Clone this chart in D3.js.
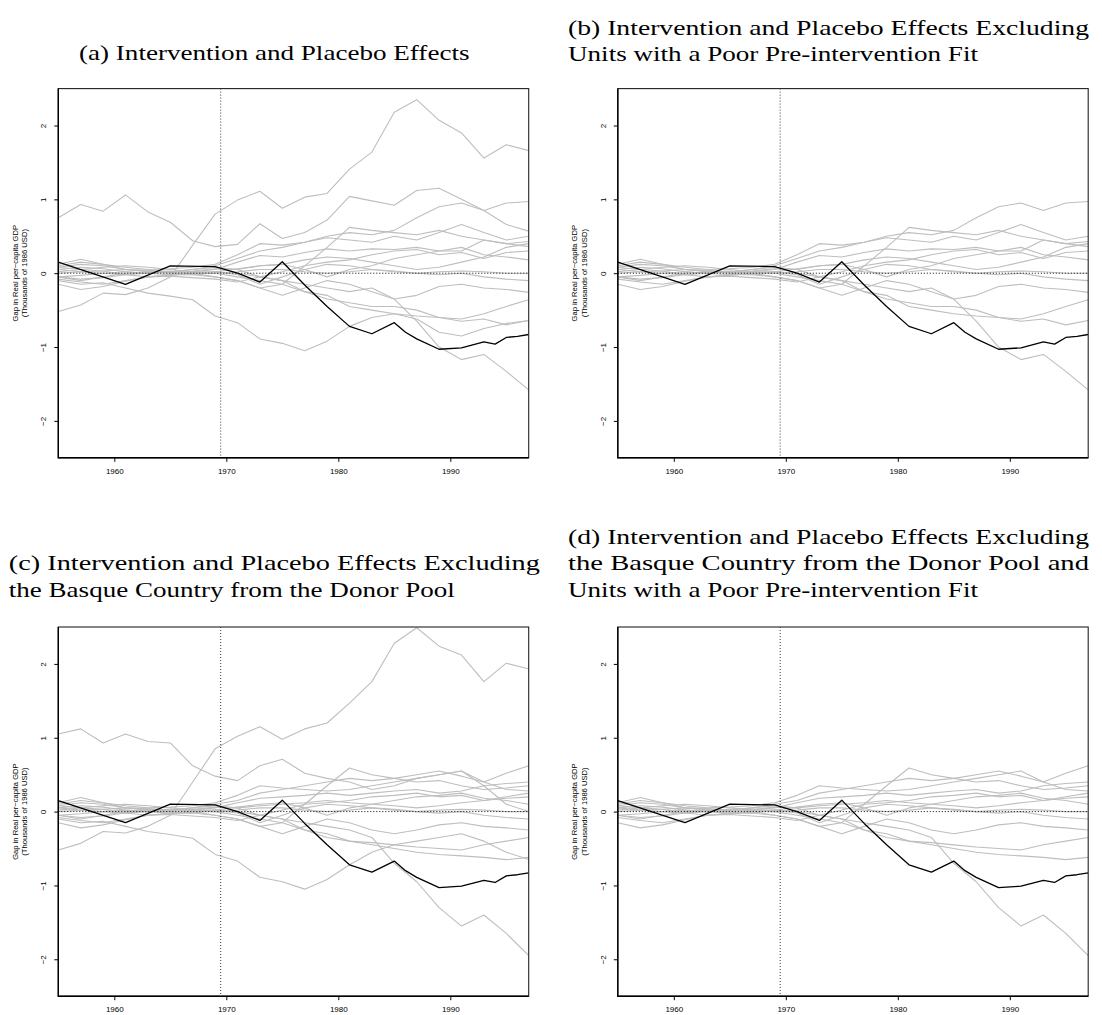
<!DOCTYPE html>
<html>
<head>
<meta charset="utf-8">
<script src="https://cdn.jsdelivr.net/npm/d3@7"></script>
<style>
  body { margin: 0; background: #fff; }
  svg { display: block; }
  .title { font-family: "Liberation Serif", "DejaVu Serif", serif; font-size: 21px; fill: #000; }
  .tick text, .ylab { font-family: "Liberation Sans", Arial, sans-serif; fill: #000; }
</style>
</head>
<body>
<div id="chart"></div>
<script>
// years with a recorded point (vertices of the placebo lines)
var years = [1955,1957,1959,1961,1963,1965,1967,1969,1971,1973,1975,1977,1979,1981,1983,1985,1987,1989,1991,1993,1995,1997];
var xTicks = [1960, 1970, 1980, 1990];
var yTicks = [-2, -1, 0, 1, 2];
var treatYear = 1969.5;

// gap for the Basque Country (same in every panel), read at its own vertices
var basqueYears = [1955,1961,1965,1969,1971,1973,1975,1977,1979,1981,1983,1985,1986,1987,1989,1991,1993,1994,1995,1996,1997];
var gapBasque   = [0.15,-0.15,0.10,0.09,0.00,-0.12,0.155,-0.16,-0.45,-0.72,-0.82,-0.67,-0.80,-0.89,-1.03,-1.01,-0.93,-0.96,-0.87,-0.855,-0.83];

// placebo gaps, Basque Country in the donor pool
var placeboA = [
  [-0.52,-0.43,-0.27,-0.29,-0.20,-0.05,0.38,0.80,0.99,1.11,0.88,1.03,1.08,1.41,1.64,2.18,2.35,2.07,1.90,1.56,1.74,1.66],
  [0.75,0.93,0.84,1.06,0.83,0.69,0.44,0.36,0.39,0.67,0.47,0.55,0.72,1.04,0.98,0.92,1.12,1.15,1.00,0.85,0.66,0.57],
  [-0.10,-0.15,-0.13,-0.20,-0.27,-0.31,-0.36,-0.58,-0.67,-0.89,-0.95,-1.05,-0.92,-0.72,-0.60,-0.55,-0.62,-0.80,-0.85,-0.75,-0.68,-0.64],
  [0.08,0.12,0.10,0.05,0.03,0.02,0.05,0.10,0.20,0.30,0.35,0.42,0.50,0.55,0.52,0.58,0.75,0.90,0.95,0.85,0.95,0.97],
  [0.05,0.08,0.06,0.02,0.00,0.02,0.05,0.08,0.05,-0.05,-0.10,-0.15,-0.20,-0.25,-0.20,-0.35,-0.65,-1.00,-1.17,-1.10,-1.33,-1.58],
  [-0.05,-0.10,-0.05,0.00,0.02,0.03,0.00,-0.05,-0.10,-0.20,-0.15,0.10,0.35,0.62,0.58,0.55,0.52,0.58,0.50,0.45,0.40,0.36],
  [0.10,0.15,0.12,0.08,0.05,0.06,0.08,0.12,0.25,0.40,0.38,0.42,0.48,0.45,0.42,0.50,0.45,0.55,0.66,0.55,0.45,0.50],
  [0.02,0.05,0.08,0.10,0.08,0.05,0.02,0.05,0.15,0.24,0.22,0.28,0.33,0.30,0.33,0.32,0.35,0.30,0.30,0.45,0.40,0.43],
  [-0.05,-0.08,-0.06,-0.02,0.02,0.01,0.02,0.02,0.00,-0.05,0.02,0.10,0.15,0.18,0.25,0.30,0.32,0.25,0.28,0.20,0.28,0.30],
  [0.12,0.19,0.12,0.05,0.02,0.00,-0.02,0.02,0.06,0.10,0.12,0.05,-0.05,0.05,0.10,0.20,0.25,0.30,0.35,0.25,0.22,0.18],
  [0.05,0.02,0.03,0.05,0.04,0.02,0.03,0.06,0.05,0.10,0.12,0.18,0.22,0.20,0.15,0.10,0.05,0.08,0.15,0.22,0.35,0.40],
  [0.00,0.02,0.00,-0.02,0.00,0.02,0.01,0.00,0.02,0.05,0.05,0.02,0.00,0.02,0.05,0.03,0.00,0.02,0.03,0.02,0.00,0.00],
  [-0.15,-0.22,-0.18,-0.11,-0.05,-0.02,0.00,0.02,-0.02,-0.15,-0.05,0.05,0.12,0.10,0.05,0.02,0.00,-0.02,0.00,-0.05,-0.08,-0.10],
  [-0.05,-0.03,0.00,0.02,0.00,-0.02,-0.02,-0.05,-0.10,-0.20,-0.30,-0.20,-0.10,-0.15,-0.25,-0.35,-0.30,-0.18,-0.15,-0.20,-0.22,-0.26],
  [0.08,0.05,0.03,-0.02,-0.05,-0.03,0.00,0.00,-0.05,-0.10,-0.15,-0.25,-0.35,-0.40,-0.45,-0.45,-0.50,-0.60,-0.62,-0.55,-0.45,-0.36],
  [-0.08,-0.12,-0.15,-0.10,-0.05,-0.04,-0.06,-0.08,-0.12,-0.05,-0.10,-0.25,-0.30,-0.45,-0.50,-0.55,-0.58,-0.60,-0.65,-0.62,-0.70,-0.64]
];

// placebo gaps, Basque Country left out of the donor pool
var placeboC = [
  [-0.52,-0.43,-0.27,-0.29,-0.20,-0.05,0.40,0.85,1.02,1.15,0.98,1.12,1.20,1.47,1.76,2.28,2.49,2.24,2.12,1.76,2.01,1.93],
  [1.05,1.12,0.93,1.05,0.95,0.93,0.62,0.48,0.42,0.62,0.71,0.52,0.45,0.40,0.30,0.35,0.45,0.50,0.55,0.35,0.10,0.00],
  [-0.10,-0.15,-0.13,-0.20,-0.27,-0.31,-0.36,-0.58,-0.67,-0.89,-0.95,-1.05,-0.92,-0.72,-0.55,-0.45,-0.40,-0.35,-0.30,-0.40,-0.55,-0.65],
  [0.08,0.12,0.10,0.05,0.03,0.02,0.05,0.10,0.15,0.25,0.30,0.35,0.40,0.45,0.42,0.45,0.50,0.55,0.48,0.40,0.52,0.62],
  [0.05,0.08,0.06,0.02,0.00,0.02,0.05,0.08,0.05,-0.05,-0.10,-0.15,-0.20,-0.25,-0.35,-0.70,-0.95,-1.30,-1.55,-1.40,-1.65,-1.95],
  [-0.05,-0.10,-0.05,0.00,0.02,0.03,0.00,-0.05,-0.10,-0.20,-0.15,0.10,0.35,0.59,0.50,0.45,0.40,0.42,0.35,0.30,0.32,0.35],
  [0.10,0.15,0.12,0.08,0.05,0.06,0.08,0.12,0.22,0.35,0.32,0.30,0.28,0.30,0.35,0.40,0.45,0.50,0.55,0.40,0.30,0.28],
  [0.02,0.05,0.08,0.10,0.08,0.05,0.02,0.05,0.12,0.18,0.20,0.22,0.25,0.22,0.25,0.28,0.30,0.25,0.28,0.35,0.38,0.40],
  [-0.05,-0.08,-0.06,-0.02,0.02,0.01,0.02,0.02,0.00,-0.05,0.02,0.10,0.12,0.15,0.20,0.22,0.25,0.20,0.22,0.15,0.18,0.20],
  [0.12,0.19,0.12,0.05,0.02,0.00,-0.02,0.02,0.06,0.10,0.12,0.05,-0.05,0.05,0.10,0.15,0.20,0.22,0.25,0.18,0.15,0.10],
  [0.05,0.02,0.03,0.05,0.04,0.02,0.03,0.06,0.05,0.08,0.10,0.12,0.15,0.12,0.10,0.08,0.05,0.08,0.12,0.15,0.20,0.25],
  [0.00,0.02,0.00,-0.02,0.00,0.02,0.01,0.00,0.02,0.05,0.05,0.02,0.00,0.02,0.05,0.03,0.00,0.02,0.03,0.02,0.00,0.00],
  [-0.15,-0.22,-0.18,-0.11,-0.05,-0.02,0.00,0.02,-0.02,-0.15,-0.05,0.05,0.10,0.08,0.05,0.02,0.00,-0.02,0.00,-0.05,-0.08,-0.10],
  [-0.05,-0.03,0.00,0.02,0.00,-0.02,-0.02,-0.05,-0.10,-0.20,-0.30,-0.20,-0.10,-0.15,-0.25,-0.30,-0.25,-0.18,-0.15,-0.20,-0.22,-0.25],
  [0.08,0.05,0.03,-0.02,-0.05,-0.03,0.00,0.00,-0.05,-0.10,-0.15,-0.25,-0.35,-0.40,-0.42,-0.45,-0.48,-0.50,-0.52,-0.45,-0.40,-0.35],
  [-0.08,-0.12,-0.15,-0.10,-0.05,-0.04,-0.06,-0.08,-0.12,-0.05,-0.10,-0.25,-0.30,-0.40,-0.45,-0.50,-0.55,-0.58,-0.60,-0.62,-0.65,-0.62]
];

// units dropped for a poor pre-intervention fit (index into the lists above)
var poorFit = [0, 1, 2];

var W = 1102, H = 1015;
var boxW = 470.4, boxH = 369.2;

var panels = [
  { left: 58.3,  top: 88.6,  series: placeboA, drop: false,
    title: [{ t: "(a) Intervention and Placebo Effects", x: 79, y: 59.5, w: 390.5 }] },
  { left: 617.8, top: 88.6,  series: placeboA, drop: true,
    title: [{ t: "(b) Intervention and Placebo Effects Excluding", x: 568, y: 34.5, w: 521 },
            { t: "Units with a Poor Pre-intervention Fit", x: 568, y: 60.8, w: 410 }] },
  { left: 58.3,  top: 627,   series: placeboC, drop: false,
    title: [{ t: "(c) Intervention and Placebo Effects Excluding", x: 8.8, y: 570, w: 531 },
            { t: "the Basque Country from the Donor Pool", x: 8.8, y: 596.5, w: 446 }] },
  { left: 617.8, top: 627,   series: placeboC, drop: true,
    title: [{ t: "(d) Intervention and Placebo Effects Excluding", x: 568, y: 543.5, w: 521 },
            { t: "the Basque Country from the Donor Pool and", x: 568, y: 570, w: 521 },
            { t: "Units with a Poor Pre-intervention Fit", x: 568, y: 596.5, w: 410 }] }
];

var svg = d3.select("#chart").append("svg")
  .attr("width", W).attr("height", H)
  .attr("viewBox", "0 0 " + W + " " + H);

var x = d3.scaleLinear().domain([1955, 1997]).range([0, boxW]);
var y = d3.scaleLinear().domain([-2.5, 2.5]).range([boxH, 0]);

var placeboLine = d3.line()
  .x(function(d, i) { return x(years[i]); })
  .y(function(d) { return y(d); });

var basqueLine = d3.line()
  .x(function(d, i) { return x(basqueYears[i]); })
  .y(function(d) { return y(d); });

panels.forEach(function(p, k) {
  // caption lines
  p.title.forEach(function(l) {
    svg.append("text")
      .attr("class", "title")
      .attr("x", l.x).attr("y", l.y)
      .attr("textLength", l.w)
      .attr("lengthAdjust", "spacingAndGlyphs")
      .text(l.t);
  });

  var g = svg.append("g").attr("transform", "translate(" + p.left + "," + p.top + ")");

  svg.append("clipPath").attr("id", "clip" + k)
    .append("rect").attr("width", boxW).attr("height", boxH);

  var plot = g.append("g").attr("clip-path", "url(#clip" + k + ")");

  var units = p.series.filter(function(s, i) { return !(p.drop && poorFit.indexOf(i) >= 0); });

  plot.selectAll(".placebo")
    .data(units)
    .enter().append("path")
    .attr("class", "placebo")
    .attr("fill", "none")
    .attr("stroke", "#bebebe")
    .attr("stroke-width", 1.1)
    .attr("stroke-linejoin", "round")
    .attr("d", placeboLine);

  plot.append("path")
    .datum(gapBasque)
    .attr("fill", "none")
    .attr("stroke", "#000")
    .attr("stroke-width", 1.3)
    .attr("stroke-linejoin", "round")
    .attr("d", basqueLine);

  // reference lines
  plot.append("line")
    .attr("x1", 0).attr("x2", boxW)
    .attr("y1", y(0)).attr("y2", y(0))
    .attr("stroke", "#000").attr("stroke-width", 1)
    .attr("stroke-dasharray", "1,2");

  plot.append("line")
    .attr("x1", x(treatYear)).attr("x2", x(treatYear))
    .attr("y1", 0).attr("y2", boxH)
    .attr("stroke", "#222").attr("stroke-width", 0.9)
    .attr("stroke-dasharray", "1,2");

  // axes
  var xa = g.append("g")
    .attr("transform", "translate(0," + boxH + ")")
    .call(d3.axisBottom(x).tickValues(xTicks).tickFormat(d3.format("d")).tickSize(4).tickSizeOuter(0));
  xa.select(".domain").remove();
  xa.selectAll(".tick line").attr("stroke", "#000").attr("stroke-width", 1);
  xa.selectAll(".tick text").attr("y", 16.3).attr("dy", 0).style("font-size", "8px");

  var ya = g.append("g")
    .call(d3.axisLeft(y).tickValues(yTicks)
      .tickFormat(function(d) { return d < 0 ? "\u2212" + Math.abs(d) : d; })
      .tickSize(4).tickSizeOuter(0));
  ya.select(".domain").remove();
  ya.selectAll(".tick line").attr("stroke", "#000").attr("stroke-width", 1);
  ya.selectAll(".tick text")
    .attr("x", 0).attr("y", 0).attr("dy", "0.35em")
    .attr("text-anchor", "middle")
    .attr("transform", "translate(-15,0) rotate(-90)")
    .style("font-size", "8px");

  // frame
  g.append("rect")
    .attr("width", boxW).attr("height", boxH)
    .attr("fill", "none").attr("stroke", "#222").attr("stroke-width", 1.1);
  g.append("path")
    .attr("d", "M0,0V" + boxH + "H" + boxW)
    .attr("fill", "none").attr("stroke", "#000").attr("stroke-width", 1.4);

  // y axis label
  var yl = g.append("text")
    .attr("class", "ylab")
    .attr("transform", "translate(-40.5," + (boxH / 2) + ") rotate(-90)")
    .attr("text-anchor", "middle")
    .style("font-size", "7.6px");
  yl.append("tspan").attr("x", 0).attr("dy", 0).text("Gap in Real per\u2212capita GDP");
  yl.append("tspan").attr("x", 0).attr("dy", "1.25em").text("(Thousands of 1986 USD)");
});
</script>
</body>
</html>
